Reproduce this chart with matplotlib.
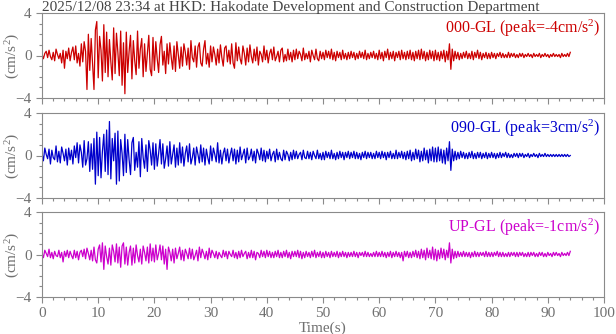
import numpy as np
import matplotlib
matplotlib.use("Agg")
import matplotlib.pyplot as plt
from matplotlib.ticker import MultipleLocator

dt = 0.25

ns_000 = [
    0.1, -0.3, 0.2, 0.4, -0.2, 0.5, -0.1, -0.4, 0.3, -0.5, 0.6, 0.1, -0.3, 0.2, -0.7, 0.5, -1.2, 0.4, -0.3, 0.7,
    -0.5, 0.3, 0.8, -0.4, 0.9, -0.7, 0.2, -1.0, 1.1, -0.6, 1.3, 0.4, -3.2, 2.0, -1.4, 1.6, -0.8, -3.2, 2.4, 3.2,
    -2.1, 1.8, 0.5, -2.4, 2.9, -1.6, 2.2, -2.0, 1.5, -0.6, -2.3, 2.6, -1.7, 2.1, 0.3, -1.9, 2.3, -2.8, 1.2, -3.6,
    2.2, -1.6, 0.4, 1.9, -2.2, 1.4, -0.5, -1.8, 2.3, -1.2, 0.6, 1.6, -2.0, 1.1, -1.5, 0.2, 1.9, -1.3, -1.9, 1.7,
    -1.4, 1.3, -0.3, -1.6, 1.0, 1.8, -0.9, 0.4, -1.7, 1.1, -0.8, 1.2, -0.2, -1.3, 0.9, -1.5, 1.3, 0.1, -1.2, 0.8,
    -1.0, 1.1, 0.3, -0.9, 0.7, -1.3, 1.4, -0.2, -0.6, 0.9, -1.1, 0.8, 1.2, -0.7, -1.0, 0.6, 1.4, -0.8, 0.2, -1.1,
    0.9, -0.6, 0.8, 0.1, -0.9, 0.6, -0.7, 1.0, -0.2, -1.0, 0.7, 0.9, -0.6, 0.5, -0.8, 1.1, -0.7, -1.2, 1.2, -0.5,
    0.8, -0.3, -0.8, 0.9, 0.2, -0.9, 0.7, -0.6, 1.0, -0.1, -0.7, 0.6, -0.5, 0.8, -0.9, 0.4, 0.1, -0.6, 0.9, -0.4,
    0.5, -0.7, 0.2, 0.6, -0.4, 0.8, -0.5, -0.1, 0.4, -0.6, 0.5, 0.7, -0.6, 0.1, -0.5, 0.6, -0.4, 0.3, -0.6, 0.5,
    -0.4, 0.6, -0.3, 0.4, 0.1, -0.5, 0.7, -0.4, 0.2, -0.3, 0.4, -0.6, 0.5, 0.0, -0.4, 0.6, -0.3, -0.5, 0.4, -0.3,
    0.3, -0.4, 0.5, -0.2, 0.4, -0.3, 0.6, -0.4, 0.3, -0.5, 0.4, -0.2, 0.3, -0.4, 0.5, -0.3, 0.2, -0.4, 0.3, -0.3,
    0.4, -0.2, 0.3, -0.4, 0.2, -0.3, 0.4, -0.2, 0.3, -0.3, 0.5, -0.4, 0.2, -0.3, 0.3, -0.2, 0.4, -0.3, 0.2, -0.4,
    0.5, -0.3, 0.3, -0.5, 0.4, -0.2, 0.6, -0.4, 0.3, -0.3, 0.4, -0.5, 0.3, -0.2, 0.4, -0.4, 0.5, -0.3, 0.3, -0.4,
    0.4, -0.3, 0.5, -0.4, 0.3, -0.5, 0.4, -0.3, 0.5, -0.4, 0.6, -0.3, 0.4, -0.5, 0.3, -0.4, 0.5, -0.3, 0.4, -0.5,
    0.5, -0.4, 0.3, -0.5, 0.4, -0.3, 0.5, -0.6, 0.4, -0.4, 1.1, -1.3, 0.6, -0.5, 0.4, -0.3, 0.3, -0.4, 0.2, -0.3,
    0.3, -0.2, 0.4, -0.3, 0.2, -0.3, 0.4, -0.4, 0.3, -0.2, 0.5, -0.3, 0.3, -0.4, 0.2, -0.2, 0.3, -0.3, 0.2, -0.3,
    0.3, -0.2, 0.2, -0.3, 0.2, -0.1, 0.3, -0.2, 0.2, -0.2, 0.1, -0.2, 0.3, -0.2, 0.2, -0.1, 0.2, -0.2, 0.1, -0.2,
    0.2, -0.1, 0.2, -0.2, 0.1, -0.1, 0.2, -0.1, 0.1, -0.2, 0.2, -0.1, 0.1, -0.1, 0.2, -0.2, 0.1, -0.1, 0.2, -0.1,
    0.1, -0.2, 0.1, -0.1, 0.2, -0.1, 0.1, -0.1, 0.1, -0.2, 0.2, -0.1, 0.1, -0.1, 0.2, -0.1, 0.3,
]

ew_090 = [
    0.2, -0.5, 0.7, 0.1, -0.3, 0.6, -0.8, 0.5, -0.2, -0.4, 0.9, -0.6, 0.4, -0.7, 0.8, 0.2, -0.5, 0.6, -0.9, 0.7,
    -0.4, 0.5, -0.8, 0.9, -0.2, 1.2, -0.7, 1.0, 0.3, -1.1, 1.4, -0.9, -0.3, 1.3, -1.5, 1.1, -1.3, 1.6, -2.7, 2.2,
    -1.9, 1.7, -2.1, 0.4, 2.0, -1.5, 2.4, -1.8, 3.2, -2.2, 1.6, -0.5, 2.1, -2.7, 2.3, -2.4, 1.5, 0.2, -1.9, 2.0,
    -1.6, 1.5, -0.4, -1.8, 1.2, 1.7, -1.4, 0.3, -1.1, 1.3, -2.0, 1.6, -0.2, -1.2, 1.0, -1.5, 1.4, 0.5, -0.9, 1.2,
    -1.3, 1.1, -1.0, 0.2, 1.5, -0.8, 1.1, -1.2, -0.3, 0.9, -1.0, 1.3, -0.8, 0.1, 1.0, -1.1, 0.7, -0.9, 1.2, -0.7,
    0.8, -1.0, 0.2, 0.9, -0.6, 1.1, -0.8, -0.2, 0.7, -0.9, 0.8, 0.1, -0.7, 1.0, -0.6, 0.7, -0.9, 0.6, -0.2, -0.8,
    0.9, -0.5, 0.7, 0.1, -0.6, 1.2, -0.7, 0.5, -0.8, 0.2, 0.7, -0.5, 0.6, -0.7, 0.1, 0.7, -0.5, 0.6, -0.8, 0.5,
    -0.6, 0.8, -0.4, 0.1, 0.6, -0.7, 0.7, -0.4, -0.1, 0.6, -0.5, 0.4, -0.7, 0.6, 0.2, -0.4, 0.7, -0.5, 0.5, -0.6,
    0.4, -0.3, 0.6, -0.5, 0.1, 0.4, -0.6, 0.6, -0.4, 0.3, -0.3, -0.5, 0.5, -0.4, 0.4, 0.1, -0.5, 0.3, -0.4, 0.5,
    -0.3, 0.4, -0.3, 0.1, 0.3, -0.4, 0.5, -0.2, -0.3, 0.4, -0.3, 0.3, -0.4, 0.4, 0.0, -0.3, 0.5, -0.3, 0.2, -0.4,
    0.3, -0.4, 0.4, -0.2, 0.3, -0.3, 0.5, -0.3, 0.2, -0.4, 0.3, -0.3, 0.4, -0.2, 0.3, -0.4, 0.3, -0.2, 0.4, -0.3,
    0.3, -0.2, 0.4, -0.3, 0.3, -0.3, 0.2, -0.4, 0.3, -0.2, 0.4, -0.3, 0.3, -0.2, 0.3, -0.3, 0.2, -0.3, 0.4, -0.2,
    0.3, -0.3, 0.4, -0.2, 0.3, -0.4, 0.3, -0.2, 0.4, -0.3, 0.2, -0.3, 0.5, -0.3, 0.3, -0.2, 0.4, -0.3, 0.3, -0.4,
    0.4, -0.3, 0.5, -0.5, 0.3, -0.4, 0.6, -0.3, 0.5, -0.6, 0.4, -0.5, 0.7, -0.4, 0.5, -0.7, 0.6, -0.5, 0.8, -0.6,
    0.7, -0.6, 0.8, -0.5, 0.6, -0.7, 0.5, -0.8, 0.7, -0.5, 1.3, -1.4, 0.6, -0.5, 0.4, -0.4, 0.3, -0.3, 0.4, -0.2,
    0.3, -0.3, 0.2, -0.3, 0.3, -0.2, 0.4, -0.3, 0.2, -0.3, 0.3, -0.2, 0.3, -0.3, 0.2, -0.2, 0.3, -0.3, 0.2, -0.2,
    0.3, -0.2, 0.2, -0.3, 0.2, -0.2, 0.3, -0.2, 0.2, -0.1, 0.3, -0.2, 0.2, -0.2, 0.1, -0.2, 0.2, -0.1, 0.2, -0.2,
    0.2, -0.1, 0.2, -0.2, 0.1, -0.1, 0.2, -0.2, 0.1, -0.1, 0.2, -0.1, 0.1, -0.2, 0.2, -0.1, 0.1, -0.1, 0.2, -0.1,
    0.1, -0.1, 0.1, -0.1, 0.1, -0.1, 0.1, -0.1, 0.1, -0.1, 0.1, -0.1, 0.1, -0.1, 0.1, -0.1, 0.0,
]

ud_up = [
    0.1, -0.3, 0.4, 0.1, -0.2, 0.5, -0.3, 0.2, -0.4, 0.3, -0.1, -0.2, 0.4, -0.3, 0.2, -0.7, 0.3, -0.2, 0.4, -0.3,
    0.3, -0.1, -0.4, 0.4, -0.3, 0.3, -0.5, 0.2, 0.4, -0.2, 0.5, -0.4, 0.6, 0.1, -0.5, 0.4, -0.6, 0.7, -0.5, -0.8,
    0.5, 0.9, -0.7, 1.1, -1.4, 0.8, -0.2, -0.9, 0.6, -1.0, 0.9, 0.3, -0.7, 1.0, -0.8, 0.7, -1.2, 0.8, 1.1, -0.9,
    0.7, -1.0, 0.2, 0.8, -1.0, 0.6, -0.8, 0.9, -0.1, -0.7, 0.5, -0.9, 0.8, 0.2, -0.6, 0.7, -0.8, 1.0, -0.6, 0.6,
    -0.7, 0.9, -0.5, 0.1, 0.9, -0.5, 0.8, -0.9, 0.5, -1.4, 0.7, 0.2, -0.6, 0.5, -0.8, 0.6, -0.4, 0.1, 0.7, -0.5,
    0.4, -0.6, 0.5, 0.1, -0.4, 0.6, -0.4, 0.5, -0.5, -0.1, 0.4, -0.6, 0.7, -0.3, 0.5, 0.1, -0.4, 0.3, -0.5, 0.6,
    -0.3, 0.4, 0.1, -0.3, 0.3, -0.4, 0.2, -0.1, -0.3, 0.4, -0.2, 0.3, -0.4, 0.3, 0.0, -0.2, 0.4, -0.3, 0.2, -0.4,
    0.3, -0.3, 0.4, -0.2, 0.1, 0.3, -0.4, 0.2, -0.3, 0.4, -0.3, 0.3, -0.5, 0.2, 0.1, -0.3, 0.4, -0.2, 0.3, -0.3,
    0.4, -0.2, 0.3, -0.3, 0.2, -0.3, 0.3, -0.2, 0.4, -0.3, 0.2, -0.3, 0.3, -0.2, 0.4, -0.3, 0.2, -0.4, 0.3, -0.2,
    0.3, -0.2, 0.4, -0.3, 0.3, -0.4, 0.2, -0.3, 0.3, -0.2, 0.2, -0.3, 0.3, -0.2, 0.4, -0.3, 0.2, -0.2, 0.3, -0.3,
    0.2, -0.3, 0.3, -0.2, 0.2, -0.3, 0.3, -0.2, 0.2, -0.2, 0.3, -0.3, 0.2, -0.2, 0.3, -0.2, 0.2, -0.3, 0.2, -0.2,
    0.2, -0.2, 0.3, -0.2, 0.2, -0.3, 0.2, -0.1, 0.2, -0.2, 0.3, -0.2, 0.2, -0.2, 0.1, -0.2, 0.2, -0.2, 0.3, -0.2,
    0.2, -0.2, 0.3, -0.2, 0.2, -0.3, 0.2, -0.2, 0.3, -0.3, 0.2, -0.2, 0.3, -0.2, 0.2, -0.3, 0.2, -0.6, 0.3, -0.2,
    0.3, -0.3, 0.2, -0.3, 0.3, -0.2, 0.4, -0.3, 0.3, -0.4, 0.5, -0.3, 0.4, -0.5, 0.6, -0.3, 0.4, -0.4, 0.7, -0.5,
    0.5, -0.6, 0.4, -0.4, 0.6, -0.3, 0.5, -0.5, 0.4, -0.3, 1.1, -0.8, 0.5, -0.4, 0.3, -0.3, 0.3, -0.2, 0.2, -0.2,
    0.3, -0.2, 0.2, -0.2, 0.2, -0.3, 0.2, -0.2, 0.3, -0.2, 0.2, -0.2, 0.2, -0.1, 0.2, -0.2, 0.3, -0.2, 0.2, -0.2,
    0.2, -0.2, 0.2, -0.1, 0.3, -0.2, 0.2, -0.2, 0.2, -0.2, 0.1, -0.2, 0.2, -0.2, 0.2, -0.1, 0.2, -0.2, 0.2, -0.2,
    0.2, -0.1, 0.2, -0.2, 0.1, -0.2, 0.2, -0.2, 0.2, -0.1, 0.2, -0.2, 0.1, -0.2, 0.2, -0.1, 0.2, -0.2, 0.1, -0.2,
    0.2, -0.1, 0.1, -0.2, 0.2, -0.1, 0.2, -0.1, 0.1, -0.2, 0.2, -0.1, 0.1, -0.1, 0.2, -0.1, 0.3,
]

components = ["000-GL", "090-GL", "UP-GL"]
peaks = [-4, 3, -1]
traces = [ns_000, ew_090, ud_up]
colors = ["#cc0000", "#0000cc", "#cc00cc"]

title = "2025/12/08 23:34 at HKD: Hakodate Development and Construction Department"

# --- style ---
plt.rcParams["font.family"] = ["Liberation Serif", "DejaVu Serif"]
plt.rcParams["mathtext.fontset"] = "custom"
plt.rcParams["mathtext.rm"] = "Liberation Serif"
plt.rcParams["mathtext.default"] = "rm"
gray = "#707070"
frame = "#8a8a8a"

fig = plt.figure(figsize=(6.16, 3.34), dpi=100)
left, width, h = 42 / 616, 562 / 616, 85 / 334
tops = [13, 113, 212]

# title sits above the first panel, baseline just above the frame
fig.text(left, 1 - 11.5 / 334, title, ha="left", va="baseline",
         color="#444444", fontsize=11)

for i, (vals, name, pk, col) in enumerate(zip(traces, components, peaks, colors)):
    ax = fig.add_axes([left, 1 - (tops[i] + 85) / 334, width, h])
    t = np.arange(len(vals)) * dt
    ax.plot(t, vals, color=col, lw=0.9)
    ax.set_xlim(0, 100)
    ax.set_ylim(-4, 4)
    ax.set_yticks([-4, 0, 4])
    ax.xaxis.set_major_locator(MultipleLocator(10))
    ax.xaxis.set_minor_locator(MultipleLocator(2))
    ax.yaxis.set_minor_locator(MultipleLocator(1))
    ax.tick_params(which="both", direction="out", colors=frame, labelcolor=gray,
                   labelsize=11, top=False, right=False)
    ax.tick_params(which="major", length=4, width=0.8)
    ax.tick_params(which="minor", length=2.5, width=0.8)
    for sp in ax.spines.values():
        sp.set_color(frame)
        sp.set_linewidth(0.8)
    ax.set_ylabel("(cm/s$^2$)", color=gray, fontsize=11)
    ax.yaxis.set_label_coords(-0.036, 0.5)
    ax.text(0.993, 0.94, f"{name} (peak={pk}cm/s$^2$)", transform=ax.transAxes,
            ha="right", va="top", color=col, fontsize=11.5)
    if i < 2:
        ax.set_xticklabels([])
    else:
        ax.set_xlabel("Time(s)", color=gray, fontsize=11, labelpad=1)

fig.savefig("out.png", dpi=100)
